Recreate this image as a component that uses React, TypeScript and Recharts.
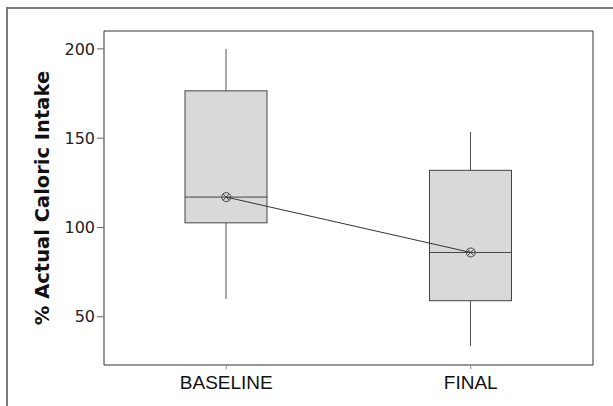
import {
  Bar,
  ComposedChart,
  Line,
  ReferenceLine,
  XAxis,
  YAxis,
} from "recharts";

const groups = ["BASELINE", "FINAL"];
const mins = [60, 33.5];
const q1s = [102.6, 59];
const medians = [117, 86];
const q3s = [176.5, 132];
const maxes = [200, 153.5];
const means = [117, 86];
const yTicks = [50, 100, 150, 200];
const yDomain = [23, 210];

const data = groups.map((name, i) => ({
  name,
  min: mins[i],
  q1: q1s[i],
  median: medians[i],
  q3: q3s[i],
  max: maxes[i],
  mean: means[i],
}));

// box + whiskers + median, scaled from the box rect that recharts gives us
function BoxShape(props: any) {
  const { x, y, width, height, payload } = props;
  const top = Math.min(y, y + height);
  const h = Math.abs(height);
  const perUnit = h / (payload.q3 - payload.q1);
  const cx = x + width / 2;
  const yMax = top - (payload.max - payload.q3) * perUnit;
  const yMin = top + h + (payload.q1 - payload.min) * perUnit;
  const yMed = top + (payload.q3 - payload.median) * perUnit;
  return (
    <g>
      <line x1={cx} x2={cx} y1={yMax} y2={top} stroke="#555" strokeWidth={1} />
      <line x1={cx} x2={cx} y1={top + h} y2={yMin} stroke="#555" strokeWidth={1} />
      <rect x={x} y={top} width={width} height={h} fill="#d9d9d9" stroke="#444" strokeWidth={1} />
      <line x1={x} x2={x + width} y1={yMed} y2={yMed} stroke="#444" strokeWidth={1} />
    </g>
  );
}

function MeanDot(props: any) {
  const { cx, cy } = props;
  const r = 4.5;
  const d = r * 0.7;
  return (
    <g>
      <circle cx={cx} cy={cy} r={r} fill="none" stroke="#444" strokeWidth={1} />
      <line x1={cx - d} y1={cy - d} x2={cx + d} y2={cy + d} stroke="#444" strokeWidth={1} />
      <line x1={cx - d} y1={cy + d} x2={cx + d} y2={cy - d} stroke="#444" strokeWidth={1} />
    </g>
  );
}

export default function App() {
  return (
    <div style={{ position: "relative", width: 613, height: 406, overflow: "hidden", background: "#fff" }}>
      <style>{"html, body { margin: 0; padding: 0; overflow: hidden; background: #fff; }"}</style>
      <ComposedChart
        width={613}
        height={406}
        data={data}
        margin={{ top: 31, right: 20, left: 44, bottom: 11 }}
        style={{ display: "block" }}
      >
        <XAxis
          dataKey="name"
          height={30}
          tickSize={4}
          tickMargin={7}
          stroke="#333"
          tickLine={{ stroke: "#888" }}
          tick={{ fill: "#111", fontSize: 19, fontFamily: "Liberation Sans" }}
        />
        <XAxis xAxisId="frame" type="number" domain={[0, 1]} hide />
        <YAxis
          type="number"
          domain={yDomain}
          ticks={yTicks}
          width={60}
          tickSize={7}
          tickMargin={2}
          stroke="#333"
          tickLine={{ stroke: "#666" }}
          tick={{ fill: "#222", fontSize: 16, fontFamily: "DejaVu Sans" }}
          label={{
            value: "% Actual Caloric Intake",
            angle: -90,
            position: "insideLeft",
            offset: -2,
            style: {
              textAnchor: "middle",
              fontFamily: "DejaVu Sans",
              fontWeight: "bold",
              fontSize: 19.5,
              fill: "#111",
            },
          }}
        />
        {/* plot frame: top and right edges */}
        <ReferenceLine y={yDomain[1]} stroke="#333" ifOverflow="visible" />
        <ReferenceLine xAxisId="frame" x={1} stroke="#333" ifOverflow="visible" />
        <Bar
          dataKey={(d: any) => [d.q1, d.q3]}
          barSize={82}
          shape={BoxShape}
          isAnimationActive={false}
        />
        <Line
          dataKey="mean"
          stroke="#333"
          strokeWidth={1}
          dot={MeanDot}
          activeDot={false}
          isAnimationActive={false}
        />
      </ComposedChart>
      {/* white strip on the right so nothing shows past the plot */}
      <div style={{ position: "absolute", right: 0, top: 9, width: 10, height: 397, background: "#fff", zIndex: 6 }} />
      {/* outer frame: only left and top edges are drawn */}
      <div style={{ position: "absolute", left: 6, top: 7, width: 2, height: 399, background: "#7a7a7a", zIndex: 7 }} />
      <div style={{ position: "absolute", left: 6, top: 7, width: 607, height: 2, background: "#7a7a7a", zIndex: 7 }} />
    </div>
  );
}
